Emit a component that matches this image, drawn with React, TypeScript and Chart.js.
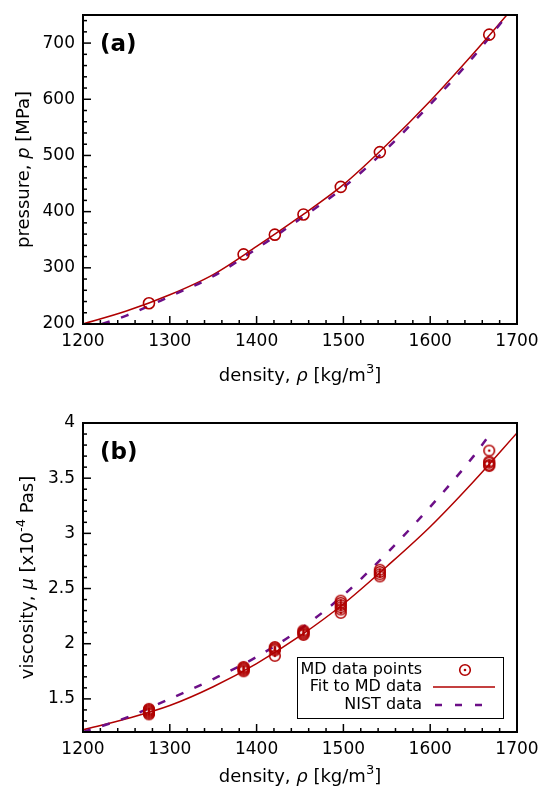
import React, { useEffect, useRef } from "react";
import { Chart, registerables } from "chart.js";
Chart.register(...registerables);

const FONT = "'DejaVu Sans', sans-serif";
const RED = "#b00000";
const PURPLE = "#6c0f87";

// axis tick labels
const RHO_TICKS = [1200, 1300, 1400, 1500, 1600, 1700];
const P_TICKS = [200, 300, 400, 500, 600, 700];
const MU_TICKS = [1.5, 2, 2.5, 3, 3.5, 4];

// panel (a): pressure vs density
const MD_P_RHO = [1276, 1385, 1421, 1454, 1497, 1542, 1668];
const MD_P = [237, 324, 359, 395, 444, 506, 715];
const FIT_P_RHO = [1200, 1250, 1300, 1350, 1400, 1450, 1500, 1550, 1600, 1650, 1690];
const FIT_P = [200, 223, 252, 288, 338, 391, 448, 519, 597, 682, 753];
const NIST_P_RHO = [1222, 1250, 1300, 1350, 1400, 1450, 1500, 1550, 1600, 1650, 1690];
const NIST_P = [200, 215, 249, 285, 334, 387, 443, 512, 591, 676, 752];

// panel (b): viscosity vs density
const MD_MU_RHO = [
  1276, 1276, 1276, 1276, 1276, 1276,
  1385, 1385, 1385, 1385, 1385,
  1421, 1421, 1421, 1421, 1421,
  1454, 1454, 1454, 1454, 1454,
  1497, 1497, 1497, 1497, 1497, 1497,
  1542, 1542, 1542, 1542,
  1668, 1668, 1668, 1668, 1668,
];
const MD_MU = [
  1.36, 1.37, 1.38, 1.39, 1.40, 1.41,
  1.75, 1.76, 1.77, 1.78, 1.79,
  1.89, 1.94, 1.95, 1.96, 1.97,
  2.08, 2.09, 2.10, 2.11, 2.12,
  2.28, 2.31, 2.33, 2.35, 2.37, 2.39,
  2.61, 2.63, 2.65, 2.67,
  3.61, 3.62, 3.64, 3.65, 3.75,
];
const FIT_MU_RHO = [1200, 1250, 1300, 1350, 1400, 1450, 1500, 1550, 1600, 1650, 1700];
const FIT_MU = [1.22, 1.32, 1.44, 1.61, 1.82, 2.07, 2.36, 2.70, 3.06, 3.47, 3.91];
const NIST_MU_RHO = [1200, 1250, 1300, 1350, 1400, 1450, 1500, 1550, 1600, 1650, 1668];
const NIST_MU = [1.20, 1.33, 1.50, 1.68, 1.88, 2.13, 2.44, 2.82, 3.24, 3.70, 3.89];

const LEGEND_LABELS = ["MD data points", "Fit to MD data", "NIST data"];

type Seg = { t: string; s?: "i" | "sup" };

const X_TITLE: Seg[] = [
  { t: "density, " },
  { t: "ρ", s: "i" },
  { t: " [kg/m" },
  { t: "3", s: "sup" },
  { t: "]" },
];
const Y_TITLE_A: Seg[] = [{ t: "pressure, " }, { t: "p", s: "i" }, { t: " [MPa]" }];
const Y_TITLE_B: Seg[] = [
  { t: "viscosity, " },
  { t: "μ", s: "i" },
  { t: " [x10" },
  { t: "-4", s: "sup" },
  { t: " Pas]" },
];

const DASH = [8, 12];

function segFont(s: Seg, size: number) {
  if (s.s === "i") return `oblique ${size}px ${FONT}`;
  if (s.s === "sup") return `${Math.round(size * 0.7)}px ${FONT}`;
  return `${size}px ${FONT}`;
}

function drawSegs(ctx: CanvasRenderingContext2D, segs: Seg[], x: number, y: number, size: number, rotate: boolean) {
  ctx.save();
  ctx.translate(x, y);
  if (rotate) ctx.rotate(-Math.PI / 2);
  let total = 0;
  const widths = segs.map((s) => {
    ctx.font = segFont(s, size);
    const w = ctx.measureText(s.t).width;
    total += w;
    return w;
  });
  let cx = -total / 2;
  ctx.textAlign = "left";
  ctx.textBaseline = "alphabetic";
  ctx.fillStyle = "#000";
  segs.forEach((s, i) => {
    ctx.font = segFont(s, size);
    ctx.fillText(s.t, cx, s.s === "sup" ? -size * 0.45 : 0);
    cx += widths[i];
  });
  ctx.restore();
}

function makeDotCircle(): HTMLCanvasElement {
  const c = document.createElement("canvas");
  c.width = 16;
  c.height = 16;
  const g = c.getContext("2d")!;
  g.strokeStyle = RED;
  g.lineWidth = 1.6;
  g.beginPath();
  g.arc(8, 8, 5.3, 0, Math.PI * 2);
  g.stroke();
  g.fillStyle = RED;
  g.beginPath();
  g.arc(8, 8, 1.3, 0, Math.PI * 2);
  g.fill();
  return c;
}

const decorPlugin = {
  id: "decor",
  afterDraw(chart: any, _args: any, opts: any) {
    const { ctx, chartArea: a, scales } = chart;
    const xs = scales.x;
    const ys = scales.y;
    ctx.save();
    ctx.strokeStyle = "#000";
    ctx.lineWidth = 1.5;
    // x ticks (inward, bottom)
    const nx = Math.floor((xs.max - xs.min) / opts.xMinor + 1e-6);
    for (let i = 0; i <= nx; i++) {
      const v = xs.min + i * opts.xMinor;
      const major = RHO_TICKS.some((t) => Math.abs(t - v) < 1e-6);
      const px = xs.getPixelForValue(v);
      ctx.beginPath();
      ctx.moveTo(px, a.bottom);
      ctx.lineTo(px, a.bottom - (major ? 8 : 4));
      ctx.stroke();
    }
    const ny = Math.floor((ys.max - ys.min) / opts.yMinor + 1e-6);
    for (let i = 0; i <= ny; i++) {
      const v = ys.min + i * opts.yMinor;
      const major = opts.yMajor.some((t: number) => Math.abs(t - v) < 1e-6);
      const py = ys.getPixelForValue(v);
      ctx.beginPath();
      ctx.moveTo(a.left, py);
      ctx.lineTo(a.left + (major ? 8 : 4), py);
      ctx.stroke();
    }
    // frame
    ctx.lineWidth = 2;
    ctx.strokeRect(a.left, a.top, a.right - a.left, a.bottom - a.top);
    // panel label
    ctx.fillStyle = "#000";
    ctx.font = `bold 23px ${FONT}`;
    ctx.textAlign = "left";
    ctx.textBaseline = "alphabetic";
    ctx.fillText(opts.label, a.left + 17, a.top + 36);
    // titles
    drawSegs(ctx, X_TITLE, (a.left + a.right) / 2, a.bottom + opts.xTitleDy, 18, false);
    drawSegs(ctx, opts.yTitle, opts.yTitleX, (a.top + a.bottom) / 2, 18, true);
    // legend
    if (opts.legend) {
      const bx = 297, by = 262, bw = 206, bh = 61;
      ctx.fillStyle = "#fff";
      ctx.fillRect(bx, by, bw, bh);
      ctx.strokeStyle = "#000";
      ctx.lineWidth = 1;
      ctx.strokeRect(bx + 0.5, by + 0.5, bw, bh);
      ctx.font = `16px ${FONT}`;
      ctx.fillStyle = "#000";
      ctx.textAlign = "right";
      ctx.textBaseline = "middle";
      const rows = [by + 13, by + 30, by + 48];
      LEGEND_LABELS.forEach((l, i) => ctx.fillText(l, 422, rows[i]));
      ctx.drawImage(opts.dot, 465 - 8, rows[0] - 8);
      ctx.strokeStyle = RED;
      ctx.lineWidth = 1.5;
      ctx.beginPath();
      ctx.moveTo(433, rows[1]);
      ctx.lineTo(495, rows[1]);
      ctx.stroke();
      ctx.strokeStyle = PURPLE;
      ctx.lineWidth = 2.5;
      ctx.setLineDash([7, 13]);
      ctx.beginPath();
      ctx.moveTo(435, rows[2]);
      ctx.lineTo(495, rows[2]);
      ctx.stroke();
      ctx.setLineDash([]);
    }
    ctx.restore();
  },
};

type PanelProps = {
  which: "a" | "b";
};

function Panel({ which }: PanelProps) {
  const ref = useRef<HTMLCanvasElement>(null);
  useEffect(() => {
    const dot = makeDotCircle();
    const isA = which === "a";
    const mdX = isA ? MD_P_RHO : MD_MU_RHO;
    const mdY = isA ? MD_P : MD_MU;
    const fitX = isA ? FIT_P_RHO : FIT_MU_RHO;
    const fitY = isA ? FIT_P : FIT_MU;
    const nistX = isA ? NIST_P_RHO : NIST_MU_RHO;
    const nistY = isA ? NIST_P : NIST_MU;
    const yTicks = isA ? P_TICKS : MU_TICKS;
    const chart = new Chart(ref.current!, {
      type: "scatter",
      data: {
        datasets: [
          {
            label: "MD data points",
            data: mdX.map((x, i) => ({ x, y: mdY[i] })),
            pointStyle: isA ? "circle" : (dot as any),
            pointRadius: isA ? 5.5 : 8,
            borderColor: RED,
            backgroundColor: "rgba(0,0,0,0)",
            borderWidth: 1.6,
            order: 1,
          },
          {
            label: "Fit to MD data",
            data: fitX.map((x, i) => ({ x, y: fitY[i] })),
            showLine: true,
            pointRadius: 0,
            borderColor: RED,
            borderWidth: 1.5,
            cubicInterpolationMode: "monotone",
            clip: 0,
            order: 3,
          },
          {
            label: "NIST data",
            data: nistX.map((x, i) => ({ x, y: nistY[i] })),
            showLine: true,
            pointRadius: 0,
            borderColor: PURPLE,
            borderWidth: 2.5,
            borderDash: DASH,
            cubicInterpolationMode: "monotone",
            clip: 0,
            order: 2,
          },
        ] as any,
      },
      options: {
        responsive: false,
        animation: false,
        devicePixelRatio: 1,
        layout: { padding: { left: 0, right: 25, top: isA ? 15 : 28, bottom: 0 } },
        plugins: {
          legend: { display: false },
          tooltip: { enabled: false },
          decor: {
            label: isA ? "(a)" : "(b)",
            xMinor: 20,
            yMinor: isA ? 20 : 0.1,
            yMajor: yTicks,
            yTitle: isA ? Y_TITLE_A : Y_TITLE_B,
            yTitleX: isA ? 29 : 33,
            xTitleDy: isA ? 57 : 50,
            legend: !isA,
            dot,
          },
        } as any,
        scales: {
          x: {
            type: "linear",
            min: 1200,
            max: 1700,
            afterBuildTicks: (s: any) => {
              s.ticks = RHO_TICKS.map((v) => ({ value: v }));
            },
            afterFit: (s: any) => {
              s.height = isA ? 71 : 58;
              s.paddingLeft = 0;
              s.paddingRight = 0;
            },
            grid: { display: false, drawTicks: false },
            border: { display: false },
            ticks: {
              color: "#000",
              font: { family: FONT, size: 17 },
              padding: 7,
              maxRotation: 0,
              autoSkip: false,
              callback: (v: any) => String(v),
            },
          },
          y: {
            type: "linear",
            min: isA ? 200 : 1.2,
            max: isA ? 750 : 4,
            afterBuildTicks: (s: any) => {
              s.ticks = yTicks.map((v) => ({ value: v }));
            },
            afterFit: (s: any) => {
              s.width = 83;
              s.paddingTop = 0;
              s.paddingBottom = 0;
            },
            grid: { display: false, drawTicks: false },
            border: { display: false },
            ticks: {
              color: "#000",
              font: { family: FONT, size: 17 },
              padding: 8,
              autoSkip: false,
              callback: (v: any) => String(v),
            },
          },
        },
      },
      plugins: [decorPlugin as any],
    });
    return () => chart.destroy();
  }, [which]);
  return <canvas ref={ref} width={542} height={395} style={{ display: "block" }} />;
}

export default function App() {
  return (
    <div style={{ position: "absolute", left: 0, top: 0, width: 542, height: 790, background: "#fff" }}>
      <Panel which="a" />
      <Panel which="b" />
    </div>
  );
}
